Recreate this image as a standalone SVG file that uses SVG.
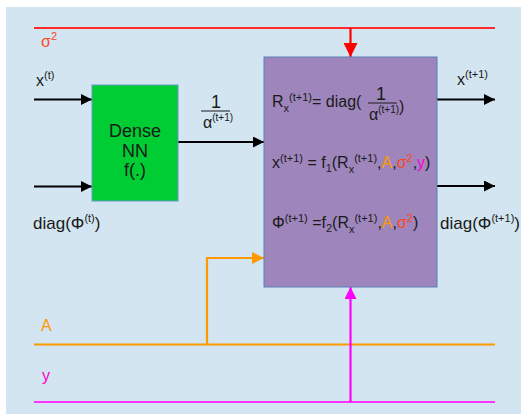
<svg xmlns="http://www.w3.org/2000/svg" width="521" height="414" viewBox="0 0 521 414">
<defs>
<style>
text{font-family:"Liberation Sans",Arial,sans-serif;font-size:16px;fill:#1a1a1a}
.s{font-size:11px}
.f{font-size:10px}
.big{font-size:17px}
.one{font-size:18px}
.red{fill:#ff4422}
.org{fill:#ff9900}
.mag{fill:#ff00cc}
.ln{fill:none;stroke-width:2.2}
</style>
<marker id="ab" viewBox="0 0 10 10" refX="10" refY="5" markerWidth="17" markerHeight="11" markerUnits="userSpaceOnUse" orient="auto"><path d="M0,0L10,5L0,10z" fill="#000"/></marker>
<marker id="ar" viewBox="0 0 10 10" refX="10" refY="5" markerWidth="19" markerHeight="14" markerUnits="userSpaceOnUse" orient="auto"><path d="M0,0L10,5L0,10z" fill="#ff0000"/></marker>
<marker id="ao" viewBox="0 0 10 10" refX="10" refY="5" markerWidth="17" markerHeight="12" markerUnits="userSpaceOnUse" orient="auto"><path d="M0,0L10,5L0,10z" fill="#ff9900"/></marker>
<marker id="am" viewBox="0 0 10 10" refX="10" refY="5" markerWidth="18" markerHeight="12" markerUnits="userSpaceOnUse" orient="auto"><path d="M0,0L10,5L0,10z" fill="#ff00ff"/></marker>
</defs>
<rect x="0" y="0" width="521" height="414" fill="#ffffff"/>
<rect x="6" y="7" width="515" height="407" fill="#d2e5f0"/>

<g id="connectors">
<line class="ln" x1="34" y1="28" x2="495" y2="28" stroke="#ff2a2a"/>
<line class="ln" x1="350.5" y1="28" x2="350.5" y2="57" stroke="#ff0000" marker-end="url(#ar)"/>
<line class="ln" x1="34" y1="99.5" x2="92" y2="99.5" stroke="#000" marker-end="url(#ab)"/>
<line class="ln" x1="34" y1="186.5" x2="92" y2="186.5" stroke="#000" marker-end="url(#ab)"/>
<line class="ln" x1="178" y1="142" x2="264" y2="142" stroke="#000" marker-end="url(#ab)"/>
<line class="ln" x1="437" y1="99.5" x2="495" y2="99.5" stroke="#000" marker-end="url(#ab)"/>
<line class="ln" x1="437" y1="186" x2="495" y2="186" stroke="#000" marker-end="url(#ab)"/>
<line class="ln" x1="34" y1="344.5" x2="495" y2="344.5" stroke="#ff9900"/>
<polyline class="ln" points="207,344.5 207,258 264,258" stroke="#ff9900" marker-end="url(#ao)"/>
<line class="ln" x1="34" y1="402" x2="495" y2="402" stroke="#ff33ff"/>
<line class="ln" x1="350.5" y1="402" x2="350.5" y2="287" stroke="#ff00ff" marker-end="url(#am)"/>
</g>

<g id="dense">
<rect x="92" y="85" width="86" height="116" fill="#00cc33" stroke="#6699cc" stroke-width="1"/>
<text x="135" y="137" text-anchor="middle" class="one">Dense</text>
<text x="135" y="157" text-anchor="middle" class="one">NN</text>
<text x="135" y="176" text-anchor="middle" class="one">f(.)</text>
</g>

<g id="update">
<rect x="264" y="57" width="173" height="230" fill="#9e86bd" stroke="#5b7fb5" stroke-width="1"/>
<text x="272" y="107">R<tspan class="s" dy="5">x</tspan><tspan class="s" dy="-11">(t+1)</tspan><tspan dy="6">= diag(</tspan></text>
<text x="381" y="100" text-anchor="middle" class="one">1</text>
<line x1="368" y1="103" x2="397" y2="103" stroke="#1a1a1a" stroke-width="1"/>
<text x="369" y="120">α<tspan class="f" dy="-7">(t+1)</tspan></text>
<text x="399" y="112">)</text>
<text x="272" y="168">x<tspan class="s" dy="-6">(t+1)</tspan><tspan dy="6"> = f</tspan><tspan class="s" dy="4">1</tspan><tspan dy="-4">(R</tspan><tspan class="s" dy="5">x</tspan><tspan class="s" dy="-11">(t+1)</tspan><tspan dy="6">,</tspan><tspan class="org">A</tspan>,<tspan class="red">σ</tspan><tspan class="s red" dy="-6">2</tspan><tspan dy="6">,</tspan><tspan class="mag">y</tspan>)</text>
<text x="272" y="228">Φ<tspan class="s" dy="-6">(t+1)</tspan><tspan dy="6"> =f</tspan><tspan class="s" dy="4">2</tspan><tspan dy="-4">(R</tspan><tspan class="s" dy="5">x</tspan><tspan class="s" dy="-11">(t+1)</tspan><tspan dy="6">,</tspan><tspan class="org">A</tspan>,<tspan class="red">σ</tspan><tspan class="s red" dy="-6">2</tspan><tspan dy="6">)</tspan></text>
</g>

<g id="labels">
<text x="41" y="47" class="red">σ<tspan class="s red" dy="-7">2</tspan></text>
<text x="36" y="86">x<tspan class="s" dy="-7">(t)</tspan></text>
<text x="33" y="229" class="big">diag(Φ<tspan class="s" dy="-7">(t)</tspan><tspan dy="7">)</tspan></text>
<text x="216" y="108" text-anchor="middle" class="one">1</text>
<line x1="201" y1="111" x2="230" y2="111" stroke="#1a1a1a" stroke-width="1"/>
<text x="203" y="128">α<tspan class="f" dy="-7">(t+1)</tspan></text>
<text x="457" y="85">x<tspan class="s" dy="-7">(t+1)</tspan></text>
<text x="440" y="229" class="big">diag(Φ<tspan class="s" dy="-7">(t+1)</tspan><tspan dy="7">)</tspan></text>
<text x="41" y="331" class="org">A</text>
<text x="42" y="381" class="mag">y</text>
</g>
</svg>
